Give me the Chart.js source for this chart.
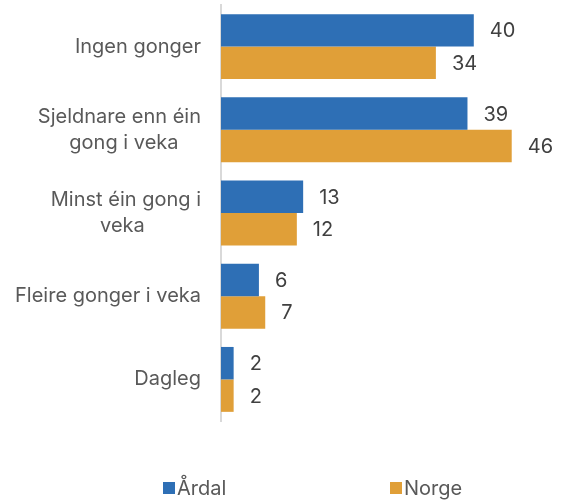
<!DOCTYPE html>
<html>
<head>
<meta charset="utf-8">
<script src="https://cdn.jsdelivr.net/npm/chart.js@4"></script>
<style>
  html, body { margin: 0; padding: 0; background: #ffffff; }
  #wrap { position: relative; width: 562px; height: 503px; }
  #legend { position: absolute; top: 475px; left: 0; width: 562px; height: 26px;
            font-family: 'Inter', sans-serif; font-size: 20px; color: #595959; }
  .item { position: absolute; top: 0; display: flex; align-items: center; line-height: 26px; }
  .swatch { width: 12px; height: 12px; margin-right: 2px; }
</style>
</head>
<body>
<div id="wrap">
  <canvas id="chart" width="562" height="503"></canvas>
  <div id="legend"></div>
</div>
<script>
// Svaralternativ (linjer som skal sentrerast i blokka er fylt ut med mellomrom)
var categories = [
  'Ingen gonger',
  ['Sjeldnare enn éin', 'gong i veka\u00a0\u00a0\u00a0\u00a0'],
  ['Minst éin gong i', 'veka\u00a0\u00a0\u00a0\u00a0\u00a0\u00a0\u00a0\u00a0\u00a0\u00a0'],
  'Fleire gonger i veka',
  'Dagleg'
];
var seriesNames = ['Årdal', 'Norge'];
var ardal = [40, 39, 13, 6, 2];
var norge = [34, 46, 12, 7, 2];

var BLUE = '#2E6FB5';
var ORANGE = '#E09F38';
var FONT = "'Inter', sans-serif";

// Skriv verdien til høgre for kvar søyle
var valueLabels = {
  id: 'valueLabels',
  afterDatasetsDraw: function (chart) {
    var ctx = chart.ctx;
    ctx.save();
    ctx.font = '20px ' + FONT;
    ctx.fillStyle = '#404040';
    ctx.textAlign = 'left';
    ctx.textBaseline = 'middle';
    chart.data.datasets.forEach(function (ds, i) {
      chart.getDatasetMeta(i).data.forEach(function (bar, j) {
        ctx.fillText(ds.data[j], bar.x + 16, bar.y + 1);
      });
    });
    ctx.restore();
  }
};

new Chart(document.getElementById('chart'), {
  type: 'bar',
  data: {
    labels: categories,
    datasets: [
      { label: seriesNames[0], data: ardal, backgroundColor: BLUE },
      { label: seriesNames[1], data: norge, backgroundColor: ORANGE }
    ]
  },
  options: {
    indexAxis: 'y',
    responsive: false,
    animation: false,
    datasets: { bar: { categoryPercentage: 0.78, barPercentage: 1 } },
    layout: { padding: { top: 5, right: 25, bottom: 82, left: 0 } },
    plugins: { legend: { display: false }, tooltip: { enabled: false } },
    scales: {
      x: { display: false, min: 0, max: 50 },
      y: {
        afterFit: function (scale) {
          scale.width = 221;
          scale.paddingTop = 0;
          scale.paddingBottom = 0;
        },
        grid: { display: false, drawTicks: false },
        border: { display: true, color: '#d9d9d9', width: 2 },
        ticks: {
          padding: 20,
          color: '#595959',
          font: { family: FONT, size: 20, lineHeight: 1.3 }
        }
      }
    }
  },
  plugins: [valueLabels]
});

// Forklaring under diagrammet
var legend = document.getElementById('legend');
[[seriesNames[0], BLUE, 163], [seriesNames[1], ORANGE, 390]].forEach(function (it) {
  var el = document.createElement('div');
  el.className = 'item';
  el.style.left = it[2] + 'px';
  el.innerHTML = '<div class="swatch" style="background:' + it[1] + '"></div><span>' + it[0] + '</span>';
  legend.appendChild(el);
});
</script>
</body>
</html>
